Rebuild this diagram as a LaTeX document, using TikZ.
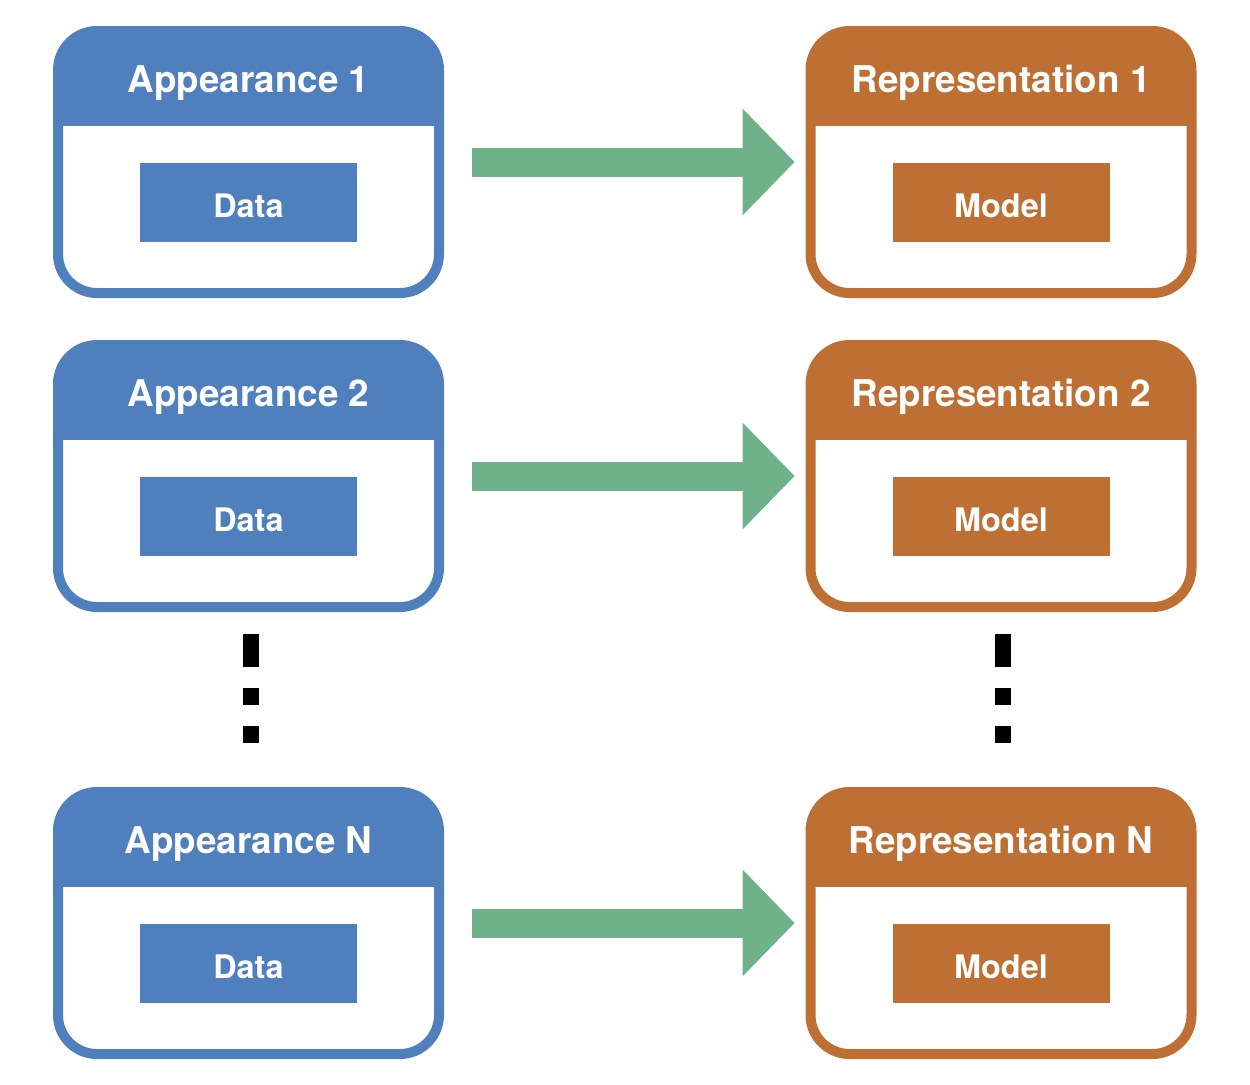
\documentclass[tikz,border=0pt]{standalone}
\usepackage{fontspec}
\setmainfont{TeX Gyre Heros}
\usetikzlibrary{positioning,arrows.meta}
\definecolor{appblue}{RGB}{79,128,189}
\definecolor{reporange}{RGB}{190,112,52}
\definecolor{flowgreen}{RGB}{111,178,138}
\begin{document}
\begin{tikzpicture}[
        x=0.5pt, y=-0.5pt,
        node distance=376.25pt,
        panel/.style={rectangle, rounded corners=19.5pt, draw=#1, line width=5pt, fill=white,
            minimum width=190.5pt, minimum height=131pt, inner sep=0pt,
            path picture={\fill[#1, sharp corners] (path picture bounding box.north west) rectangle ([yshift=-47.5pt]path picture bounding box.north east);}},
        title/.style={text=white, inner sep=0pt, anchor=base, font=\bfseries\fontsize{18.4pt}{22pt}\selectfont},
        content/.style={rectangle, fill=#1, text=white, minimum width=108.5pt, minimum height=39.5pt, inner sep=0pt,
            text height=14.5pt, text depth=0pt, font=\bfseries\fontsize{16.2pt}{19pt}\selectfont},
        flow/.style={draw=flowgreen, line width=14.5pt, -{Triangle[length=26pt, width=53.5pt, line width=0pt]},
            shorten <=14pt, shorten >=5.5pt},
        ellipsis/.style={fill=black}
    ]
        \useasboundingbox (0,0) rectangle (1250,1084);

        % Appearances
        \node[panel=appblue] (a1) at (248.5,162) {};
        \node[panel=appblue] (a2) at (248.5,476) {};
        \node[panel=appblue] (a3) at (248.5,923) {};

        % Representations
        \node[panel=reporange, right of=a1] (r1) {};
        \node[panel=reporange, right of=a2] (r2) {};
        \node[panel=reporange, right of=a3] (r3) {};

        % Titles
        \node[title] (ta1) at ([yshift=-33pt]a1.north) {Appearance 1};
        \node[title] (ta2) at ([yshift=-33pt]a2.north) {Appearance 2};
        \node[title] (ta3) at ([yshift=-33pt]a3.north) {Appearance N};
        \node[title] (tr1) at ([yshift=-33pt]r1.north) {Representation 1};
        \node[title] (tr2) at ([yshift=-33pt]r2.north) {Representation 2};
        \node[title] (tr3) at ([yshift=-33pt]r3.north) {Representation N};

        % Inner blocks
        \node[content=appblue, below=68.5pt of a1.north] (d1) {Data};
        \node[content=appblue, below=68.5pt of a2.north] (d2) {Data};
        \node[content=appblue, below=68.5pt of a3.north] (d3) {Data};
        \node[content=reporange, below=68.5pt of r1.north] (m1) {Model};
        \node[content=reporange, below=68.5pt of r2.north] (m2) {Model};
        \node[content=reporange, below=68.5pt of r3.north] (m3) {Model};

        % Mappings
        \draw[flow] (a1) -- (r1);
        \draw[flow] (a2) -- (r2);
        \draw[flow] (a3) -- (r3);

        % Vertical ellipsis
        \fill[ellipsis] (243,634) rectangle (259,667);
        \fill[ellipsis] (243,688) rectangle (259,705);
        \fill[ellipsis] (243,726) rectangle (259,743);
        \fill[ellipsis] (995,634) rectangle (1011,667);
        \fill[ellipsis] (995,688) rectangle (1011,705);
        \fill[ellipsis] (995,726) rectangle (1011,743);
    \end{tikzpicture}
\end{document}
